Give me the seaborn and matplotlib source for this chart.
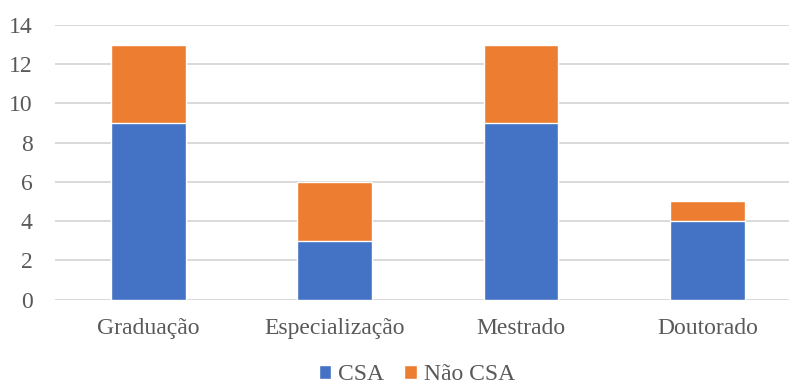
import matplotlib
matplotlib.use("Agg")
import matplotlib.pyplot as plt
import seaborn as sns
import pandas as pd

categorias = ["Graduação", "Especialização", "Mestrado", "Doutorado"]
csa = [9, 3, 9, 4]
nao_csa = [4, 3, 4, 1]

azul = "#4472C4"
laranja = "#ED7D31"
texto = "#595959"

sns.set_theme(style="white")
plt.rcParams["font.family"] = ["Liberation Serif", "DejaVu Serif"]

df = pd.DataFrame({"categoria": categorias, "CSA": csa, "Não CSA": nao_csa})
df["total"] = df["CSA"] + df["Não CSA"]

fig = plt.figure(figsize=(7.89, 3.87), dpi=100)
ax = fig.add_axes([55 / 789, (387 - 299.5) / 387, 1 - 55 / 789, 274.5 / 387])

# stacked bars: total in orange underneath, CSA in blue on top of it
sns.barplot(data=df, x="categoria", y="total", color=laranja, width=0.4,
            saturation=1, ax=ax, label="Não CSA", zorder=2)
sns.barplot(data=df, x="categoria", y="CSA", color=azul, width=0.4,
            saturation=1, ax=ax, label="CSA", zorder=3)

ax.set_ylim(0, 14)
ax.set_yticks(range(0, 15, 2))
ax.set_xlim(-0.5, 3.437)
ax.set_xlabel("")
ax.set_ylabel("")
ax.grid(axis="y", color="#D9D9D9", linewidth=1.4, zorder=0)
ax.set_axisbelow(True)
for s in ax.spines.values():
    s.set_visible(False)
ax.tick_params(axis="both", length=0, labelsize=17, labelcolor=texto)
ax.tick_params(axis="x", pad=13)
ax.tick_params(axis="y", pad=16)

handles, labels = ax.get_legend_handles_labels()
if ax.get_legend() is not None:
    ax.get_legend().remove()
order = [labels.index("CSA"), labels.index("Não CSA")]
leg = fig.legend([handles[i] for i in order], [labels[i] for i in order],
                 loc="center", bbox_to_anchor=(417 / 789, 1 - 375 / 387),
                 ncol=2, frameon=False, fontsize=17, handlelength=0.52,
                 handleheight=0.52, handletextpad=0.3, columnspacing=0.85,
                 borderpad=0)
for t in leg.get_texts():
    t.set_color(texto)

fig.savefig("out.png", dpi=100)
